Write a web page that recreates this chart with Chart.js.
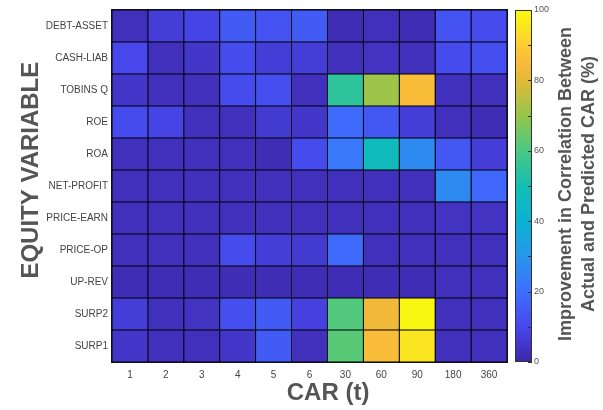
<!DOCTYPE html>
<html>
<head>
<meta charset="utf-8">
<script src="https://cdn.jsdelivr.net/npm/chart.js@4"></script>
<style>
  html, body { margin: 0; padding: 0; background: #fff; }
</style>
</head>
<body>
<canvas id="heatmap" width="603" height="410"></canvas>
<script>
// CAR windows (columns) and equity variables (rows, top to bottom)
const carWindows = ['1', '2', '3', '4', '5', '6', '30', '60', '90', '180', '360'];
const equityVars = ['DEBT-ASSET', 'CASH-LIAB', 'TOBINS Q', 'ROE', 'ROA', 'NET-PROFIT',
                    'PRICE-EARN', 'PRICE-OP', 'UP-REV', 'SURP2', 'SURP1'];

// improvement in correlation (%), one array per equity variable
const debtAsset  = [3, 7, 9, 15, 13, 15, 2, 3, 2, 13, 11];
const cashLiab   = [10, 3, 5, 11, 7, 7, 3, 4, 3, 11, 12];
const tobinsQ    = [5, 3, 3, 11, 12, 3, 55, 71, 86, 3, 3];
const roe        = [11, 9, 3, 3, 6, 5, 19, 14, 7, 3, 2];
const roa        = [3, 3, 3, 3, 2, 11, 22, 47, 27, 14, 7];
const netProfit  = [3, 3, 3, 3, 3, 3, 3, 3, 3, 27, 18];
const priceEarn  = [3, 3, 3, 3, 3, 3, 3, 3, 3, 4, 4];
const priceOp    = [3, 3, 3, 11, 7, 6, 19, 3, 3, 3, 3];
const upRev      = [2, 2, 2, 2, 2, 2, 2, 2, 2, 3, 3];
const surp2      = [7, 3, 4, 12, 15, 8, 61, 83, 99, 3, 3];
const surp1      = [5, 3, 3, 5, 15, 3, 62, 86, 95, 3, 3];

const colorTicks = [0, 20, 40, 60, 80, 100];

const grid = [debtAsset, cashLiab, tobinsQ, roe, roa, netProfit, priceEarn, priceOp, upRev, surp2, surp1];

// parula-like colormap stops
const parulaStops = [
  [0.00, 62, 38, 168],
  [0.10, 71, 71, 235],
  [0.20, 62, 111, 255],
  [0.30, 39, 150, 235],
  [0.40, 10, 178, 210],
  [0.50, 20, 190, 180],
  [0.60, 74, 200, 130],
  [0.70, 150, 198, 75],
  [0.80, 228, 185, 55],
  [0.85, 250, 185, 60],
  [0.90, 252, 205, 50],
  [1.00, 249, 251, 14]
];

function parula(t) {
  t = Math.max(0, Math.min(1, t));
  for (let i = 1; i < parulaStops.length; i++) {
    const a = parulaStops[i - 1], b = parulaStops[i];
    if (t <= b[0]) {
      const f = (t - a[0]) / (b[0] - a[0]);
      const c = [1, 2, 3].map(k => Math.round(a[k] + f * (b[k] - a[k])));
      return 'rgb(' + c.join(',') + ')';
    }
  }
  return 'rgb(249,251,14)';
}

const textGrey = '#555555';
const fontFamily = '"Liberation Sans", Arial, sans-serif';

const decorations = {
  id: 'decorations',
  afterDraw(chart) {
    const { ctx, chartArea: a } = chart;
    const x0 = a.right + 8, w = 17;
    const h = a.bottom - a.top;
    ctx.save();

    // frame around the heatmap
    ctx.strokeStyle = '#111';
    ctx.lineWidth = 1;
    ctx.strokeRect(Math.round(a.left) - 0.5, Math.round(a.top) - 0.5, Math.round(a.right - a.left) + 1, Math.round(h) + 1);

    // axis titles (offset like the original figure)
    ctx.fillStyle = textGrey;
    ctx.font = 'bold 24px ' + fontFamily;
    ctx.textAlign = 'center';
    ctx.textBaseline = 'middle';
    ctx.fillText('CAR (t)', a.left + (a.right - a.left) * 0.547, 393);
    ctx.save();
    ctx.translate(31, a.top + h * 0.455);
    ctx.rotate(-Math.PI / 2);
    ctx.fillText('EQUITY VARIABLE', 0, 0);
    ctx.restore();

    // gradient bar
    const grad = ctx.createLinearGradient(0, a.bottom, 0, a.top);
    parulaStops.forEach(s => grad.addColorStop(s[0], 'rgb(' + s[1] + ',' + s[2] + ',' + s[3] + ')'));
    ctx.fillStyle = grad;
    ctx.fillRect(x0, a.top, w, h);
    ctx.strokeStyle = '#333';
    ctx.strokeRect(x0 + 0.5, a.top + 0.5, w - 1, h - 1);

    // ticks every 10, labels every 20
    for (let v = 0; v <= 100; v += 10) {
      const y = Math.round(a.bottom - v / 100 * h) + 0.5;
      ctx.beginPath();
      ctx.moveTo(x0 + w - 4, y);
      ctx.lineTo(x0 + w, y);
      ctx.stroke();
    }
    ctx.fillStyle = textGrey;
    ctx.font = '9px ' + fontFamily;
    ctx.textAlign = 'left';
    colorTicks.forEach(v => {
      ctx.fillText(String(v), x0 + w + 2, a.bottom - v / 100 * h);
    });

    // colorbar title
    ctx.translate(0, (a.top + a.bottom) / 2 - 2);
    ctx.rotate(-Math.PI / 2);
    ctx.font = 'bold 18px ' + fontFamily;
    ctx.textAlign = 'center';
    ctx.fillText('Improvement in Correlation Between', 0, 566);
    ctx.fillText('Actual and Predicted CAR (%)', 0, 589);
    ctx.restore();
  }
};

const ctx = document.getElementById('heatmap').getContext('2d');
new Chart(ctx, {
  type: 'bar',
  data: {
    labels: equityVars,
    datasets: carWindows.map((car, ci) => ({
      label: car,
      data: equityVars.map(() => 1),
      backgroundColor: grid.map(row => parula(row[ci] / 100)),
      borderColor: '#000',
      borderWidth: 0.85,
      borderSkipped: false,
      barPercentage: 1,
      categoryPercentage: 1
    }))
  },
  options: {
    indexAxis: 'y',
    responsive: false,
    animation: false,
    layout: { padding: { top: 10, right: 96, left: 0, bottom: 0 } },
    plugins: {
      legend: { display: false },
      tooltip: { enabled: false }
    },
    scales: {
      x: {
        type: 'linear',
        stacked: true,
        min: 0,
        max: carWindows.length,
        afterBuildTicks: s => { s.ticks = carWindows.map((c, i) => ({ value: i + 0.5 })); },
        afterFit: s => { s.height = 48; },
        grid: { display: false, drawTicks: false },
        border: { display: false },
        ticks: {
          autoSkip: false,
          maxRotation: 0,
          padding: 7,
          color: '#444',
          font: { family: fontFamily, size: 10 },
          callback: v => carWindows[Math.floor(v)]
        }
      },
      y: {
        type: 'category',
        stacked: true,
        afterFit: s => { s.width = 112; },
        grid: { display: false, drawTicks: false },
        border: { display: false },
        ticks: {
          padding: 4,
          color: '#444',
          font: { family: fontFamily, size: 10 }
        }
      }
    }
  },
  plugins: [decorations]
});
</script>
</body>
</html>
